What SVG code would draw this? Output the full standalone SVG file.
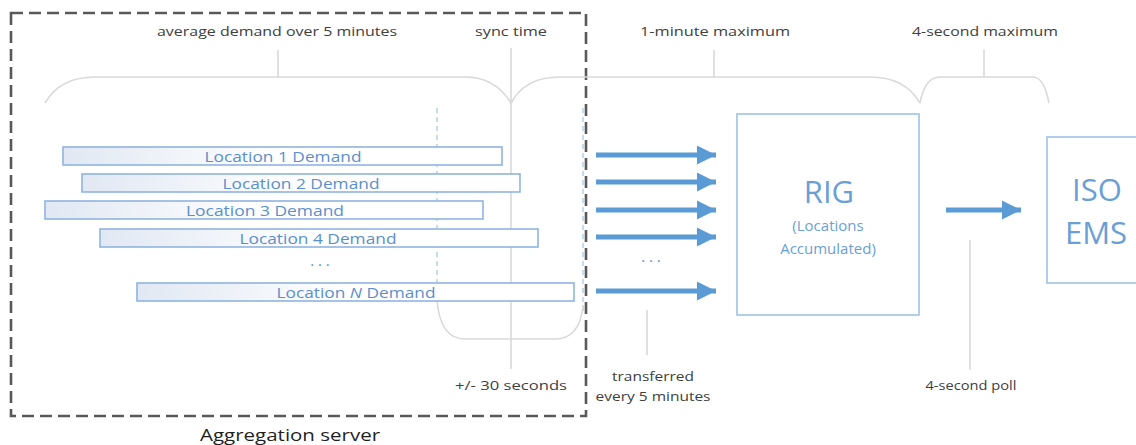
<svg xmlns="http://www.w3.org/2000/svg" width="1136" height="445" viewBox="0 0 1136 445">
  <defs>
    <linearGradient id="barFill" x1="0" y1="0" x2="1" y2="0">
      <stop offset="0" stop-color="#e1e8f3"/>
      <stop offset="0.5" stop-color="#ffffff"/>
      <stop offset="1" stop-color="#ffffff"/>
    </linearGradient>
    <marker id="head" markerUnits="userSpaceOnUse" markerWidth="22" markerHeight="22" refX="19" refY="11" orient="auto">
      <path d="M0,1.5 L19,11 L0,20.5 Z" fill="#5b9bd5"/>
    </marker>
    <style>
      .note { font-family: "Open Sans", "Liberation Sans", sans-serif; font-size: 13px; fill: #404040; text-anchor: middle; }
      .brace { fill: none; stroke: #d9d9d9; stroke-width: 1.6; }
      .guide { fill: none; stroke: #9dc3e6; stroke-width: 1.2; stroke-dasharray: 5 4; }
      .bar rect { fill: url(#barFill); stroke: #8fb4e0; stroke-width: 1.6; }
      .bar text, .dots { font-family: "Open Sans", "Liberation Sans", sans-serif; font-size: 15px; fill: #5a8fcc; text-anchor: middle; }
      .flow { stroke: #5b9bd5; stroke-width: 5; marker-end: url(#head); }
      .box rect { fill: #ffffff; stroke: #9dc3e6; stroke-width: 1.6; }
      .big { font-family: "Open Sans", "Liberation Sans", sans-serif; font-size: 31px; fill: #6a9fd6; text-anchor: middle; }
      .small { font-family: "Open Sans", "Liberation Sans", sans-serif; font-size: 15px; fill: #6a9fd6; text-anchor: middle; }
    </style>
  </defs>

  <rect width="1136" height="445" fill="#ffffff"/>

  <!-- aggregation server boundary -->
  <g id="aggregation-server">
    <rect x="11" y="13" width="575" height="403" fill="none" stroke="#595959" stroke-width="2.6" stroke-dasharray="12 6"/>
    <text x="290" y="441" font-family="Open Sans, Liberation Sans, sans-serif" font-size="16" fill="#1f1f1f" text-anchor="middle" textLength="180" lengthAdjust="spacingAndGlyphs">Aggregation server</text>
  </g>

  <!-- timing braces and their labels -->
  <g id="timing">
    <text class="note" x="277" y="36" textLength="240" lengthAdjust="spacingAndGlyphs">average demand over 5 minutes</text>
    <text class="note" x="511" y="36" textLength="72" lengthAdjust="spacingAndGlyphs">sync time</text>
    <text class="note" x="715" y="36" textLength="150" lengthAdjust="spacingAndGlyphs">1-minute maximum</text>
    <text class="note" x="985" y="36" textLength="146" lengthAdjust="spacingAndGlyphs">4-second maximum</text>

    <path class="brace" d="M45,103 Q60,77 95,77 L465,77 Q495,77 511,103"/>
    <line class="brace" x1="278" y1="50" x2="278" y2="77"/>
    <path class="brace" d="M511,103 Q525,77 560,77 L870,77 Q905,77 920,103"/>
    <line class="brace" x1="714" y1="50" x2="714" y2="77"/>
    <path class="brace" d="M920,103 Q925,77 940,77 L1033,77 Q1044,77 1049,103"/>
    <line class="brace" x1="984" y1="50" x2="984" y2="77"/>

    <!-- sync instant -->
    <line class="brace" x1="511" y1="48" x2="511" y2="369"/>
    <line class="guide" x1="437" y1="108" x2="437" y2="305"/>
    <line class="guide" x1="583" y1="108" x2="583" y2="312"/>
    <path class="brace" d="M437,300 Q440,339 465,339 L555,339 Q580,339 583,305"/>
    <text class="note" x="511" y="390" textLength="112" lengthAdjust="spacingAndGlyphs">+/- 30 seconds</text>

    <line class="brace" x1="647" y1="310" x2="647" y2="355" stroke="#d6e4f2"/>
    <text class="note" x="653" y="381" textLength="82" lengthAdjust="spacingAndGlyphs">transferred</text>
    <text class="note" x="653" y="401" textLength="115" lengthAdjust="spacingAndGlyphs">every 5 minutes</text>

    <line class="brace" x1="970" y1="240" x2="970" y2="370"/>
    <text class="note" x="971" y="390" textLength="91" lengthAdjust="spacingAndGlyphs">4-second poll</text>
  </g>

  <!-- per-location demand intervals -->
  <g id="location-1" class="bar">
    <rect x="63" y="147" width="439" height="18"/>
    <text x="283" y="161.5" textLength="157" lengthAdjust="spacingAndGlyphs">Location 1 Demand</text>
  </g>
  <g id="location-2" class="bar">
    <rect x="82" y="174" width="438" height="18"/>
    <text x="301" y="188.5" textLength="157" lengthAdjust="spacingAndGlyphs">Location 2 Demand</text>
  </g>
  <g id="location-3" class="bar">
    <rect x="45" y="201" width="438" height="18"/>
    <text x="265" y="215.5" textLength="158" lengthAdjust="spacingAndGlyphs">Location 3 Demand</text>
  </g>
  <g id="location-4" class="bar">
    <rect x="100" y="229" width="438" height="18"/>
    <text x="318" y="243.5" textLength="157" lengthAdjust="spacingAndGlyphs">Location 4 Demand</text>
  </g>
  <text class="dots" x="320" y="270">· · ·</text>
  <g id="location-n" class="bar">
    <rect x="137" y="283" width="437" height="18"/>
    <text x="356" y="297.5" textLength="159" lengthAdjust="spacingAndGlyphs">Location <tspan font-style="italic">N</tspan> Demand</text>
  </g>

  <!-- RIG -->
  <g id="rig" class="box">
    <rect x="737" y="114" width="182" height="201"/>
    <text class="big" x="829" y="203">RIG</text>
    <text class="small" x="828" y="231">(Locations</text>
    <text class="small" x="828" y="254">Accumulated)</text>
  </g>

  <!-- ISO EMS -->
  <g id="iso-ems" class="box">
    <rect x="1047" y="137" width="100" height="146"/>
    <text class="big" x="1097" y="201">ISO</text>
    <text class="big" x="1096" y="244">EMS</text>
  </g>

  <!-- data transfers -->
  <g id="connectors">
    <line class="flow" x1="596" y1="155" x2="716" y2="155"/>
    <line class="flow" x1="596" y1="182" x2="716" y2="182"/>
    <line class="flow" x1="596" y1="210" x2="716" y2="210"/>
    <line class="flow" x1="596" y1="237" x2="716" y2="237"/>
    <text class="dots" x="651" y="266">· · ·</text>
    <line class="flow" x1="596" y1="291" x2="716" y2="291"/>
    <line class="flow" x1="946" y1="210" x2="1021" y2="210"/>
  </g>
</svg>
